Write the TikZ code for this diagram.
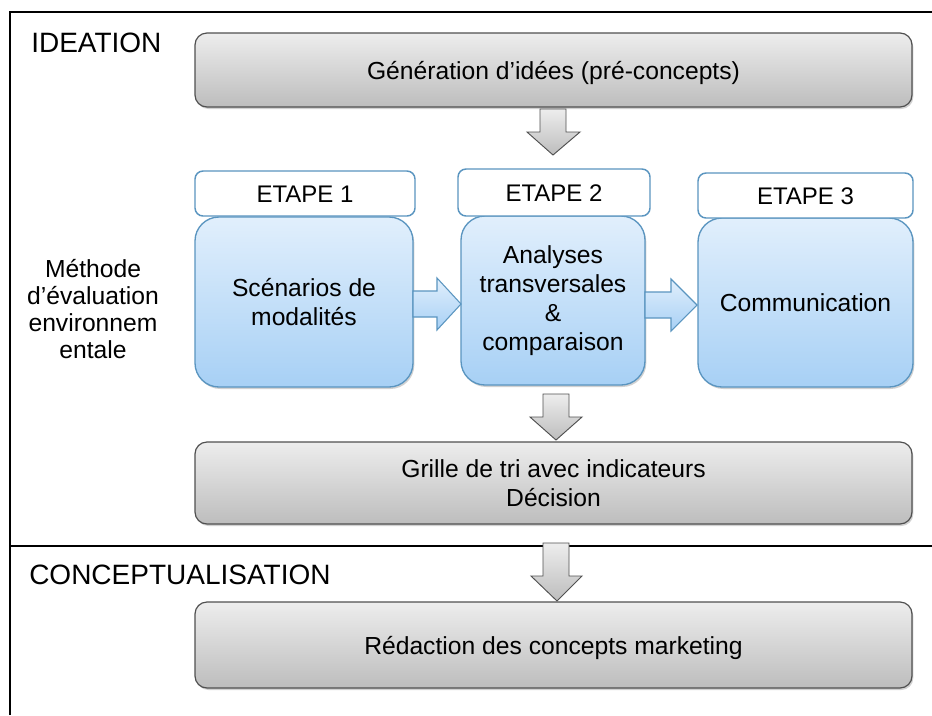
\documentclass[tikz,border=0pt]{standalone}
\usepackage{fontspec}
\setmainfont{Liberation Sans}
\usetikzlibrary{shadows}
\definecolor{grayTop}{HTML}{EDEDED}
\definecolor{grayBot}{HTML}{BDBDBD}
\definecolor{grayLine}{HTML}{505050}
\definecolor{blueTop}{HTML}{E1EFFC}
\definecolor{blueBot}{HTML}{A7D0F5}
\definecolor{blueLine}{HTML}{5A95C0}
\begin{document}
\begin{tikzpicture}[x=0.75pt,y=-0.75pt,
  boxfont/.style={font=\fontsize{18.5}{21.75}\selectfont},
  softshadow/.style={drop shadow={shadow xshift=1pt,shadow yshift=-1.5pt,fill=black,opacity=0.18}},
  graybox/.style={draw=grayLine, line width=0.9pt, rounded corners=9pt, top color=grayTop, bottom color=grayBot, align=center, inner sep=0pt, boxfont, softshadow},
  oneline/.style={text height=15.5pt, text depth=2pt},
  bluebox/.style={draw=blueLine, line width=1pt, rounded corners=18pt, top color=blueTop, bottom color=blueBot, align=center, inner sep=0pt, boxfont, softshadow},
  etapebox/.style={draw=blueLine, line width=1.1pt, rounded corners=6pt, fill=white, inner sep=0pt, text height=14pt, text depth=0pt, font=\fontsize{18}{21}\selectfont},
  dnarrow/.style={draw=grayLine, line width=0.7pt, top color=grayTop, bottom color=grayBot},
  rtarrow/.style={draw=blueLine, line width=0.8pt, top color=blueTop, bottom color=blueBot},
  frameline/.style={line width=1.4pt, black},
  title/.style={anchor=base west, inner sep=0pt, font=\fontsize{21}{25}\selectfont}
]
\useasboundingbox (0,0) rectangle (932,715);
\fill[white] (0,0) rectangle (932,715);

% frame
\coordinate (fbl) at (10,715);
\coordinate (ftl) at (10,12);
\coordinate (ftr) at (932,12);
\coordinate (fml) at (10,546);
\coordinate (fmr) at (932,546);
\draw[frameline] (fbl) -- (ftl) -- (ftr);
\draw[frameline] (fml) -- (fmr);

% titles
\node[title] (ideation) at (31,52) {IDEATION};
\node[title] (concept) at (29,584) {CONCEPTUALISATION};
\node[align=center, inner sep=0pt, font=\fontsize{18.5}{20.25}\selectfont] (methode) at (93,309)
  {Méthode\\d’évaluation\\environnem\\entale};

% boxes
\node[graybox, oneline, minimum width=537.75pt, minimum height=55.5pt] (gen) at (553.5,70) {Génération d’idées (pré-concepts)};

\node[bluebox, minimum width=163.5pt, minimum height=127.5pt] (b1) at (304,302) {Scénarios de\\modalités};
\node[bluebox, minimum width=138pt, minimum height=126.75pt] (b2) at (553,300.5) {Analyses\\transversales\\\&\\comparaison};
\node[bluebox, minimum width=161.25pt, minimum height=126.75pt] (b3) at (805.5,302.5) {Communication};

\node[etapebox, minimum width=165pt, minimum height=33.75pt] (e1) at (305,193.5) {ETAPE 1};
\node[etapebox, minimum width=144pt, minimum height=35.25pt] (e2) at (554,192.5) {ETAPE 2};
\node[etapebox, minimum width=161.25pt, minimum height=33.75pt] (e3) at (805.5,195.5) {ETAPE 3};

\node[graybox, minimum width=537.75pt, minimum height=61.5pt] (grille) at (553.5,483) {Grille de tri avec indicateurs\\Décision};
\node[graybox, oneline, minimum width=537.75pt, minimum height=64.5pt] (redac) at (553.5,645) {Rédaction des concepts marketing};

% block arrows
\draw[dnarrow] (540,109) -- (566,109) -- (566,132) -- (580,132) -- (553,155) -- (527,132) -- (540,132) -- cycle;
\draw[dnarrow] (543,394) -- (569,394) -- (569,417) -- (582,417) -- (556,440) -- (530,417) -- (543,417) -- cycle;
\draw[dnarrow] (543,543) -- (569,543) -- (569,576) -- (582,576) -- (557,601) -- (531,576) -- (543,576) -- cycle;

\draw[rtarrow] (413,291) -- (437,291) -- (437,278) -- (461,304) -- (437,330) -- (437,317) -- (413,317) -- cycle;
\draw[rtarrow] (645,292) -- (671,292) -- (671,279) -- (697,305) -- (671,331) -- (671,318) -- (645,318) -- cycle;
\end{tikzpicture}
\end{document}
